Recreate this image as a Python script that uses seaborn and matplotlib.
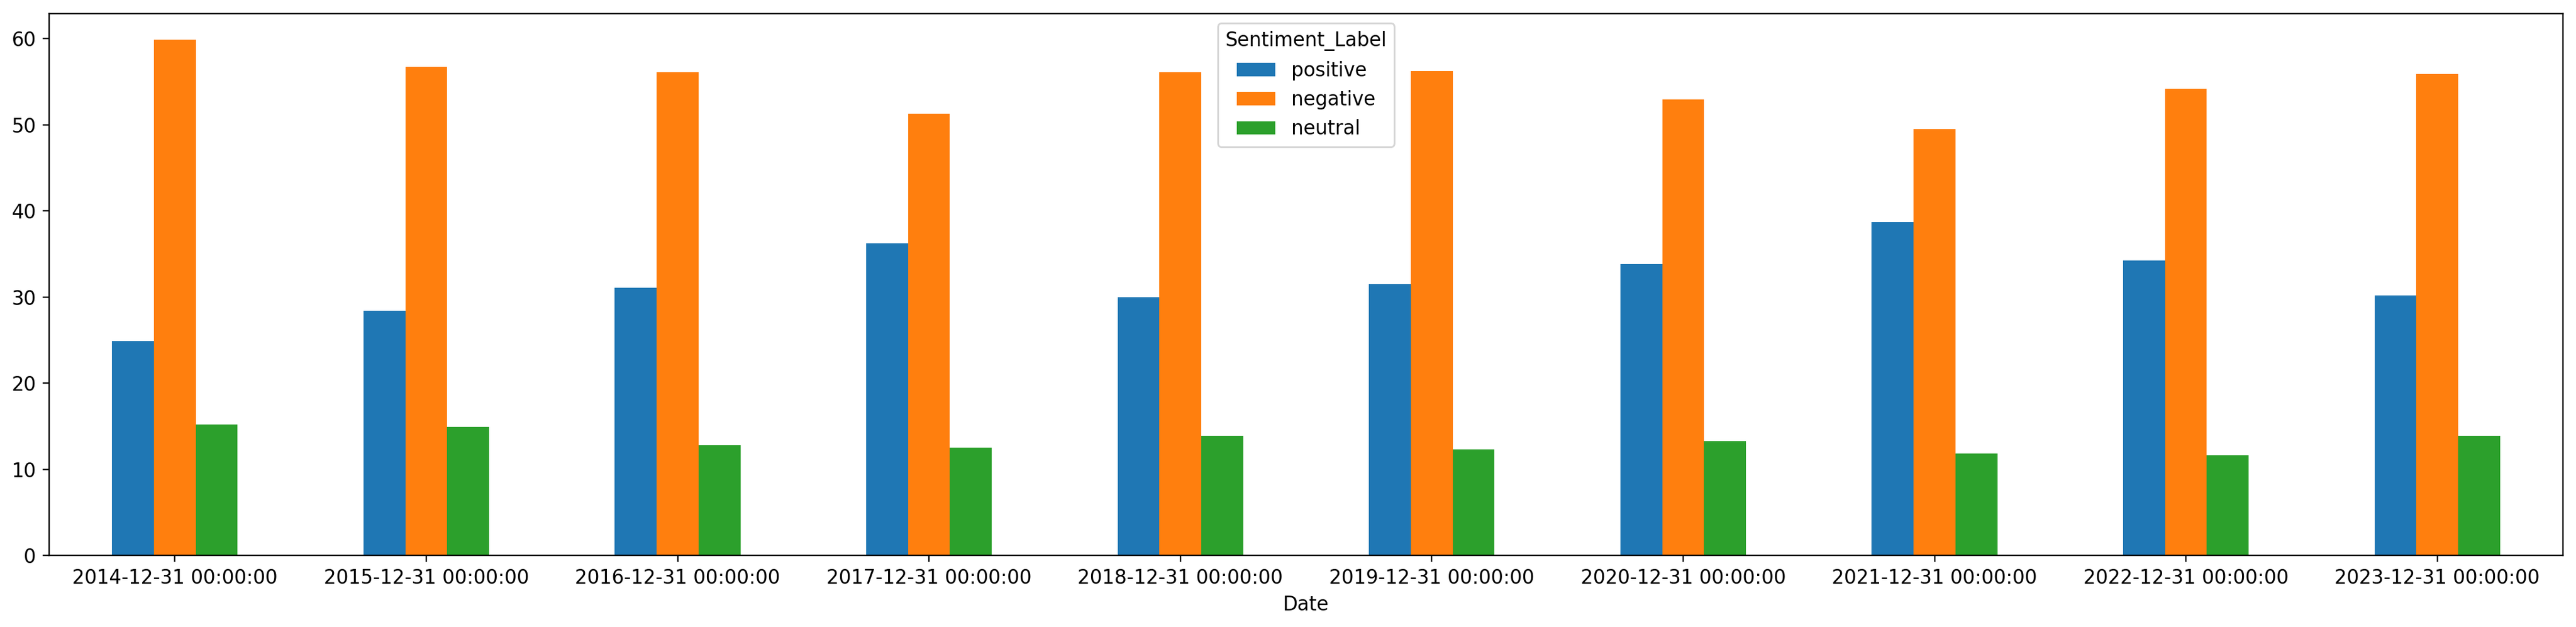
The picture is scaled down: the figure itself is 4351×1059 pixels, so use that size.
import matplotlib
matplotlib.use("Agg")
import matplotlib.pyplot as plt
import seaborn as sns
import pandas as pd

dates = ["2014-12-31 00:00:00", "2015-12-31 00:00:00", "2016-12-31 00:00:00",
         "2017-12-31 00:00:00", "2018-12-31 00:00:00", "2019-12-31 00:00:00",
         "2020-12-31 00:00:00", "2021-12-31 00:00:00", "2022-12-31 00:00:00",
         "2023-12-31 00:00:00"]
labels = ["positive", "negative", "neutral"]
positive = [24.9, 28.4, 31.1, 36.2, 30.0, 31.5, 33.8, 38.7, 34.2, 30.2]
negative = [59.9, 56.7, 56.1, 51.3, 56.1, 56.2, 52.9, 49.5, 54.2, 55.9]
neutral = [15.2, 14.9, 12.8, 12.5, 13.9, 12.3, 13.3, 11.8, 11.6, 13.9]
colors = ["#1f77b4", "#ff7f0e", "#2ca02c"]

rows = []
for i, d in enumerate(dates):
    for lab, vals in zip(labels, [positive, negative, neutral]):
        rows.append({"Date": d, "Sentiment_Label": lab, "value": vals[i]})
df = pd.DataFrame(rows)

plt.rcParams['font.family'] = ['DejaVu Sans']
plt.rcParams['font.size'] = 10.9
plt.rcParams['xtick.major.size'] = 3.5 * 1.09
plt.rcParams['ytick.major.size'] = 3.5 * 1.09
fig = plt.figure(figsize=(4351 / 216, 1059 / 216), dpi=216)
ax = fig.add_axes([83 / 4351, 1 - 938 / 1059, (4329 - 83) / 4351, (938 - 23) / 1059])
sns.barplot(data=df, x="Date", y="value", hue="Sentiment_Label",
            order=dates, hue_order=labels, palette=colors, saturation=1,
            width=0.5, gap=0, errorbar=None, linewidth=0, ax=ax)
ax.set_ylim(0, 62.9)
ax.set_xlim(-0.5, len(dates) - 0.5)
ax.set_ylabel("")
ax.set_xlabel("Date")
ax.tick_params(axis="x", rotation=0)
sns.move_legend(ax, "upper center", title="Sentiment_Label")
fig.savefig("out.png", dpi=216)
